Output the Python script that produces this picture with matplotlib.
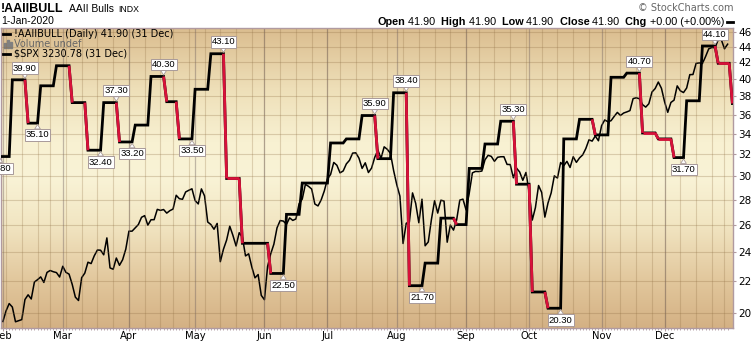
import numpy as np
import pandas as pd
import matplotlib
matplotlib.use('Agg')
import matplotlib.pyplot as plt
from matplotlib.ticker import NullLocator, FixedLocator, FixedFormatter
from matplotlib.offsetbox import TextArea, HPacker, AnchoredOffsetbox
from matplotlib.lines import Line2D
from matplotlib.patches import Rectangle

W, H = 751, 342

# trading days Feb..Dec 2019
holidays = ['2019-02-18', '2019-04-19', '2019-05-27', '2019-07-04',
            '2019-09-02', '2019-11-28', '2019-12-25']
days = pd.bdate_range('2019-02-01', '2019-12-31')
days = days[~days.isin(pd.to_datetime(holidays))]

# S&P 500 daily closes (overlay)
spx_feb = [2706.53, 2724.87, 2737.70, 2731.61, 2706.05, 2707.88, 2709.80, 2744.73, 2753.03, 2745.73,
           2775.60, 2779.76, 2784.70, 2774.88, 2792.67, 2796.11, 2793.90, 2792.38, 2784.49]
spx_mar = [2803.69, 2792.81, 2789.65, 2771.45, 2748.93, 2743.07, 2783.30, 2791.52, 2810.92, 2808.48,
           2822.48, 2832.94, 2832.57, 2824.23, 2854.88, 2800.71, 2798.36, 2818.46, 2805.37, 2815.44, 2834.40]
spx_apr = [2867.19, 2867.24, 2873.40, 2879.39, 2892.74, 2895.77, 2878.20, 2888.21, 2888.32, 2907.41,
           2905.58, 2907.06, 2900.45, 2905.03, 2907.97, 2933.68, 2927.25, 2926.17, 2939.88, 2943.03, 2945.83]
spx_may = [2923.73, 2917.52, 2945.64, 2932.47, 2884.05, 2879.42, 2870.72, 2881.40, 2811.87, 2834.41,
           2850.96, 2876.32, 2859.53, 2840.23, 2864.36, 2856.27, 2822.24, 2826.06, 2802.39, 2783.02,
           2788.86, 2752.06]
spx_jun = [2744.45, 2803.27, 2826.15, 2843.49, 2873.34, 2886.73, 2885.72, 2879.84, 2891.64, 2886.98,
           2889.67, 2917.75, 2926.46, 2954.18, 2950.46, 2945.35, 2917.38, 2913.78, 2924.92, 2941.76]
spx_jul = [2964.33, 2973.01, 2995.82, 2990.41, 2975.95, 2979.63, 2993.07, 2999.91, 3013.77, 3014.30,
           3004.04, 2984.42, 2995.11, 2976.61, 2985.03, 3005.47, 3019.56, 3003.67, 3025.86, 3020.97,
           3013.18, 2980.38]
spx_aug = [2953.56, 2932.05, 2844.74, 2881.77, 2883.98, 2938.09, 2918.65, 2882.70, 2926.32, 2840.60,
           2847.60, 2888.68, 2923.65, 2900.51, 2924.43, 2922.95, 2847.11, 2878.38, 2869.16, 2887.94,
           2924.58, 2926.46]
spx_sep = [2906.27, 2937.78, 2976.00, 2978.71, 2978.43, 2979.39, 3000.93, 3009.57, 3007.39, 2997.96,
           3005.70, 3006.73, 3006.79, 2992.07, 2991.78, 2966.60, 2984.87, 2977.62, 2961.79, 2976.74]
spx_oct = [2940.25, 2887.61, 2910.63, 2952.01, 2938.79, 2893.06, 2919.40, 2938.13, 2970.27, 2966.15,
           2995.68, 2989.69, 2997.95, 2986.20, 3006.72, 2995.99, 3004.52, 3010.29, 3022.55, 3039.42,
           3036.89, 3046.77, 3037.56]
spx_nov = [3066.91, 3078.27, 3074.62, 3076.78, 3085.18, 3093.08, 3087.01, 3091.84, 3094.04, 3096.63,
           3120.46, 3122.03, 3120.18, 3108.46, 3103.54, 3110.29, 3133.64, 3140.52, 3153.63, 3140.98]
spx_dec = [3113.87, 3093.20, 3112.76, 3117.43, 3145.91, 3135.96, 3132.52, 3141.63, 3168.57, 3168.80,
           3191.45, 3192.52, 3191.14, 3205.37, 3221.22, 3224.01, 3223.38, 3239.91, 3240.02, 3221.29, 3230.78]
spx = (spx_feb + spx_mar + spx_apr + spx_may + spx_jun + spx_jul + spx_aug
       + spx_sep + spx_oct + spx_nov + spx_dec)

# AAII bulls: weekly value and the trading-day index where it starts
bull_start = [-1, 3, 8, 12, 17, 22, 27, 32, 37, 42, 47, 52, 56, 61, 66, 71, 76, 85, 90, 95,
              104, 109, 114, 119, 124, 129, 134, 139, 144, 148, 153, 158, 163, 168, 173, 178,
              183, 188, 193, 198, 203, 208, 213, 217, 222, 227, 231.5]
bull_value = [31.8, 39.9, 35.1, 39.2, 41.6, 37.3, 32.4, 37.3, 33.2, 34.9, 40.3, 37.4, 33.5, 38.8,
              43.1, 29.8, 24.6, 22.5, 26.8, 29.4, 33.1, 33.5, 35.9, 31.6, 38.4, 21.7, 23.2, 26.5,
              26.0, 30.7, 33.0, 35.3, 29.3, 21.3, 20.3, 33.5, 35.5, 33.9, 40.2, 40.7, 34.1, 33.5,
              31.7, 37.5, 44.1, 41.9, 37.2]
# annotated extremes: (segment index, above?)
bull_labels = [(0, False), (1, True), (2, False), (6, False), (7, True), (8, False), (10, True),
               (12, False), (14, True), (17, False), (22, True), (24, True), (25, False),
               (31, True), (34, False), (39, True), (42, False), (44, True)]
red_flats = [15, 40, 41, 45]

y_ticks = list(range(20, 47, 2))
month_names = ['Feb', 'Mar', 'Apr', 'May', 'Jun', 'Jul', 'Aug', 'Sep', 'Oct', 'Nov', 'Dec']

t = np.arange(len(days))
month_idx = [i for i in range(len(days)) if i == 0 or days[i].month != days[i - 1].month]
week_idx = [i for i in range(1, len(days)) if days[i].weekday() < days[i - 1].weekday()]

FRAME = '#b09aa0'
RED = '#d8113a'
GRID = (0.55, 0.42, 0.25)
MGRID = (0.42, 0.36, 0.36)

fig = plt.figure(figsize=(W / 100, H / 100), dpi=100)
fig.patch.set_facecolor('white')
pos = [1 / W, (H - 328.3) / H, 732.3 / W, 300 / H]

# gradient background
bg = fig.add_axes(pos, zorder=0)
stops = [0.0, 0.15, 0.35, 0.5, 0.62, 0.8, 1.0]
cols = np.array([(212, 177, 132), (225, 198, 155), (242, 230, 195), (249, 243, 214),
                 (248, 241, 210), (238, 223, 184), (219, 189, 143)]) / 255
yy = np.linspace(0, 1, 300)
grad = np.stack([np.interp(yy, stops, cols[:, k]) for k in range(3)], axis=-1)[:, None, :]
bg.imshow(grad, aspect='auto', extent=[0, 1, 0, 1], origin='lower')
bg.axis('off')

ax = fig.add_axes(pos, zorder=1)
ax.patch.set_visible(False)
ax2 = ax.twinx()
ax2.set_zorder(0.5)
ax2.patch.set_visible(False)

# SPX overlay
ax2.plot(t, spx, color='black', lw=1.1)
ax2.set_yscale('log')
ax2.set_ylim(2694.8, 3263.7)
ax2.yaxis.set_major_locator(NullLocator())
ax2.yaxis.set_minor_locator(NullLocator())
for s in ax2.spines.values():
    s.set_visible(False)

# AAII step line
xs, ys = [], []
n = len(bull_value)
for i in range(n):
    end = bull_start[i + 1] - 1 if i + 1 < n else bull_start[i]
    xs += [bull_start[i], end]
    ys += [bull_value[i], bull_value[i]]
ax.plot(xs, ys, color='black', lw=2.0, zorder=3, solid_joinstyle='miter')
for i in range(1, n):
    if bull_value[i] < bull_value[i - 1]:
        ax.plot([bull_start[i] - 1, bull_start[i]], [bull_value[i - 1], bull_value[i]],
                color=RED, lw=2.0, zorder=4, solid_capstyle='butt')
for i in red_flats:
    ax.plot([bull_start[i], bull_start[i + 1] - 1], [bull_value[i]] * 2,
            color=RED, lw=2.0, zorder=4, solid_capstyle='butt')

for i, above in bull_labels:
    xa = bull_start[0] if i == 0 else bull_start[i + 1] - 1
    ax.annotate('%.2f' % bull_value[i], xy=(xa, bull_value[i]),
                xytext=(0, 8.5 if above else -8.5), textcoords='offset points',
                ha='center', va='center', fontsize=6.8, family='Liberation Sans',
                bbox=dict(boxstyle='square,pad=0.12', fc='white', ec='#a89a9a', lw=0.7),
                arrowprops=dict(arrowstyle='wedge,tail_width=0.6,shrink_factor=0.5',
                                fc='white', ec='#a89a9a', lw=0.6, shrinkA=0, shrinkB=1),
                zorder=6, annotation_clip=False)

ax.set_yscale('log')
ax.set_ylim(19.13, 46.47)
ax.set_xlim(-0.6, 231.8)
ax.yaxis.tick_right()
ax.yaxis.set_major_locator(FixedLocator(y_ticks))
ax.yaxis.set_major_formatter(FixedFormatter([str(v) for v in y_ticks]))
ax.yaxis.set_minor_locator(NullLocator())
ax.set_xticks(month_idx, labels=month_names)
ax.set_xticks(t, minor=True)
ax.tick_params(axis='y', which='major', direction='out', length=2.5, width=0.8, color=FRAME,
               labelsize=7.5, pad=1)
ax.tick_params(axis='x', which='major', direction='out', length=2, width=0.8, color=FRAME,
               labelsize=7.2, pad=0.3)
ax.tick_params(axis='x', which='minor', direction='out', length=1.6, width=0.6, color=FRAME)
for lab in ax.get_xticklabels() + ax.get_yticklabels():
    lab.set_family('DejaVu Sans')
for s in ax.spines.values():
    s.set_color(FRAME)
    s.set_linewidth(1)

ax.yaxis.grid(True, color=GRID, alpha=0.28, lw=0.8)
for w in week_idx:
    ax.axvline(w, color=GRID, alpha=0.26, lw=0.8, zorder=0.5)
for m in month_idx:
    ax.axvline(m, color=MGRID, alpha=0.4, lw=0.9, zorder=0.5)


def fx(x):
    return x / W


def fy(y):
    return 1 - y / H


# header
fig.text(fx(1), fy(11.7), '!AAIIBULL', fontsize=9, fontweight='bold', family='Liberation Sans',
         va='baseline')
fig.text(fx(69), fy(11.7), 'AAII Bulls', fontsize=7.5, family='Liberation Sans', va='baseline')
fig.text(fx(118), fy(11.7), 'INDX', fontsize=6.3, family='Liberation Sans', va='baseline')
fig.text(fx(1.5), fy(24), '1-Jan-2020', fontsize=7.5, family='Liberation Sans', va='baseline')
fig.text(fx(733), fy(11), '\u00a9 StockCharts.com', fontsize=7, color='#666666',
         family='DejaVu Sans', ha='right', va='baseline')

pieces = [('Open', True), (' 41.90', False), ('  High', True), (' 41.90', False),
          ('  Low', True), (' 41.90', False), ('  Close', True), (' 41.90', False),
          ('  Chg', True), (' +0.00 (+0.00%)', False)]
areas = [TextArea(s, textprops=dict(fontsize=7.8, family='Liberation Sans',
                                    fontweight='bold' if b else 'normal')) for s, b in pieces]
box = AnchoredOffsetbox(loc='center right', child=HPacker(children=areas, sep=0, pad=0),
                        bbox_to_anchor=(fx(724), fy(21.7)), bbox_transform=fig.transFigure,
                        frameon=False, pad=0, borderpad=0)
fig.add_artist(box)
fig.add_artist(Line2D([fx(727), fx(733)], [fy(21.7)] * 2, color='black', lw=2,
                      transform=fig.transFigure))

# legend
fig.add_artist(Line2D([fx(3), fx(10)], [fy(34.3)] * 2, color='black', lw=2, transform=fig.transFigure))
fig.text(fx(14), fy(34.3), '!AAIIBULL (Daily) 41.90 (31 Dec)', fontsize=7, family='DejaVu Sans',
         va='center')
for bx, bh in [(4, 5), (7, 8), (10, 6)]:
    fig.add_artist(Rectangle((fx(bx), fy(48)), 2 / W, bh / H, color='#808080',
                             transform=fig.transFigure))
fig.text(fx(14), fy(44.3), 'Volume undef', fontsize=7, family='DejaVu Sans', color='#666666',
         va='center')
fig.add_artist(Line2D([fx(3), fx(10)], [fy(54)] * 2, color='black', lw=2, transform=fig.transFigure))
fig.text(fx(14), fy(54), r'\$SPX 3230.78 (31 Dec)', fontsize=7, family='DejaVu Sans', va='center')

fig.savefig('out.png', dpi=100)
